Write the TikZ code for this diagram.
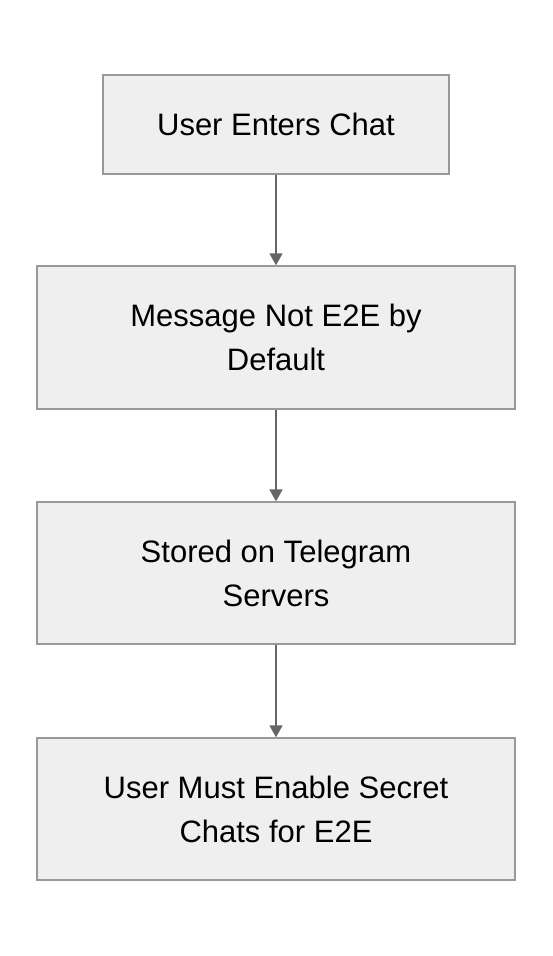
\documentclass[tikz,border=0pt]{standalone}
\usepackage{fontspec}
\setmainfont{Liberation Sans}
\usetikzlibrary{arrows.meta}
\definecolor{boxfill}{HTML}{EFEFEF}
\definecolor{boxline}{HTML}{999999}
\definecolor{arrowc}{HTML}{666666}
\tikzset{
  flowbox/.style={draw=boxline, line width=1.3pt, fill=boxfill, align=center, font=\fontsize{31}{44}\selectfont, inner sep=0pt},
  flowarrow/.style={draw=arrowc, line width=1.5pt, -{Triangle[length=12pt,width=13pt]}}
}
\begin{document}
\begin{tikzpicture}[x=1pt,y=-1pt]
\useasboundingbox (0,0) rectangle (552,956);
\node[flowbox, minimum width=346pt, minimum height=99pt] (a) at (276,124.5) {User Enters Chat};
\node[flowbox, minimum width=478pt, minimum height=143pt] (b) at (276,337.5) {Message Not E2E by\\Default};
\node[flowbox, minimum width=478pt, minimum height=142pt] (c) at (276,573) {Stored on Telegram\\Servers};
\node[flowbox, minimum width=478pt, minimum height=142pt] (d) at (276,809) {User Must Enable Secret\\Chats for E2E};
\draw[flowarrow] (a.south) -- (b.north);
\draw[flowarrow] (b.south) -- (c.north);
\draw[flowarrow] (c.south) -- (d.north);
\end{tikzpicture}
\end{document}
